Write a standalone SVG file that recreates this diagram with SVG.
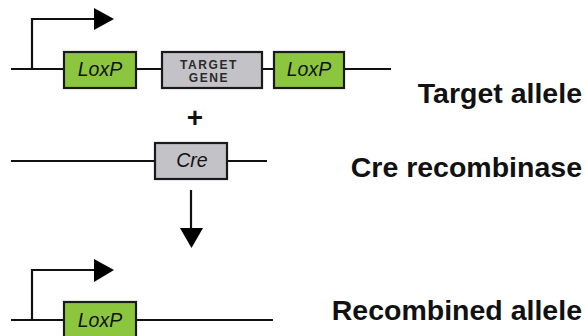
<svg xmlns="http://www.w3.org/2000/svg" width="586" height="336" viewBox="0 0 586 336">
<defs>
<style>
.ln{stroke:#111;stroke-width:2.2;fill:none}
.green{fill:#8cc63f;stroke:#1a1a1a;stroke-width:2.2}
.gray{fill:#c3c3c7;stroke:#1a1a1a;stroke-width:2.2}
.lox{font-family:"Liberation Sans",Arial,sans-serif;font-style:italic;font-size:19.5px;fill:#111;text-anchor:middle}
.gene{font-family:"Liberation Sans",Arial,sans-serif;font-weight:bold;font-size:12px;letter-spacing:1.6px;fill:#2a2a2a;text-anchor:middle}
.lbl{font-family:"Liberation Sans",Arial,sans-serif;font-weight:bold;font-size:28.5px;fill:#111;text-anchor:end}
.head{fill:#000}
</style>
</defs>
<rect width="586" height="336" fill="#fff"/>
<g id="connectors">
<line class="ln" x1="11" y1="69" x2="391" y2="69"/>
<line class="ln" x1="11" y1="161" x2="267" y2="161"/>
<line class="ln" x1="11" y1="320" x2="273" y2="320"/>
<line class="ln" x1="191" y1="190" x2="191" y2="230"/>
<polygon class="head" points="180,228 203,228 191.5,248"/>
</g>
<g id="promoter1">
<polyline class="ln" points="32,69 32,19 96,19"/>
<polygon class="head" points="94,8 114,19 94,30"/>
</g>
<g id="loxp1">
<rect class="green" x="64" y="52" width="72" height="36"/>
<text class="lox" x="100" y="76">LoxP</text>
</g>
<g id="target-gene">
<rect class="gray" x="162" y="52" width="100" height="36"/>
<text class="gene" x="209" y="68.5">TARGET</text>
<text class="gene" x="209" y="82.2">GENE</text>
</g>
<g id="loxp2">
<rect class="green" x="274" y="52" width="70" height="36"/>
<text class="lox" x="309" y="76">LoxP</text>
</g>
<g id="plus">
<text x="195" y="127" style="font-family:'Liberation Sans',Arial,sans-serif;font-weight:bold;font-size:28px;fill:#111;text-anchor:middle">+</text>
</g>
<g id="cre">
<rect class="gray" x="155" y="143" width="72" height="36"/>
<text class="lox" x="192" y="167">Cre</text>
</g>
<g id="promoter2">
<polyline class="ln" points="32,320 32,270 96,270"/>
<polygon class="head" points="94,259 114,270 94,282"/>
</g>
<g id="loxp3">
<rect class="green" x="64" y="302" width="72" height="38"/>
<text class="lox" x="100" y="327">LoxP</text>
</g>
<g id="labels">
<text class="lbl" x="582" y="103">Target allele</text>
<text class="lbl" x="582" y="177">Cre recombinase</text>
<text class="lbl" x="582" y="320">Recombined allele</text>
</g>
</svg>
